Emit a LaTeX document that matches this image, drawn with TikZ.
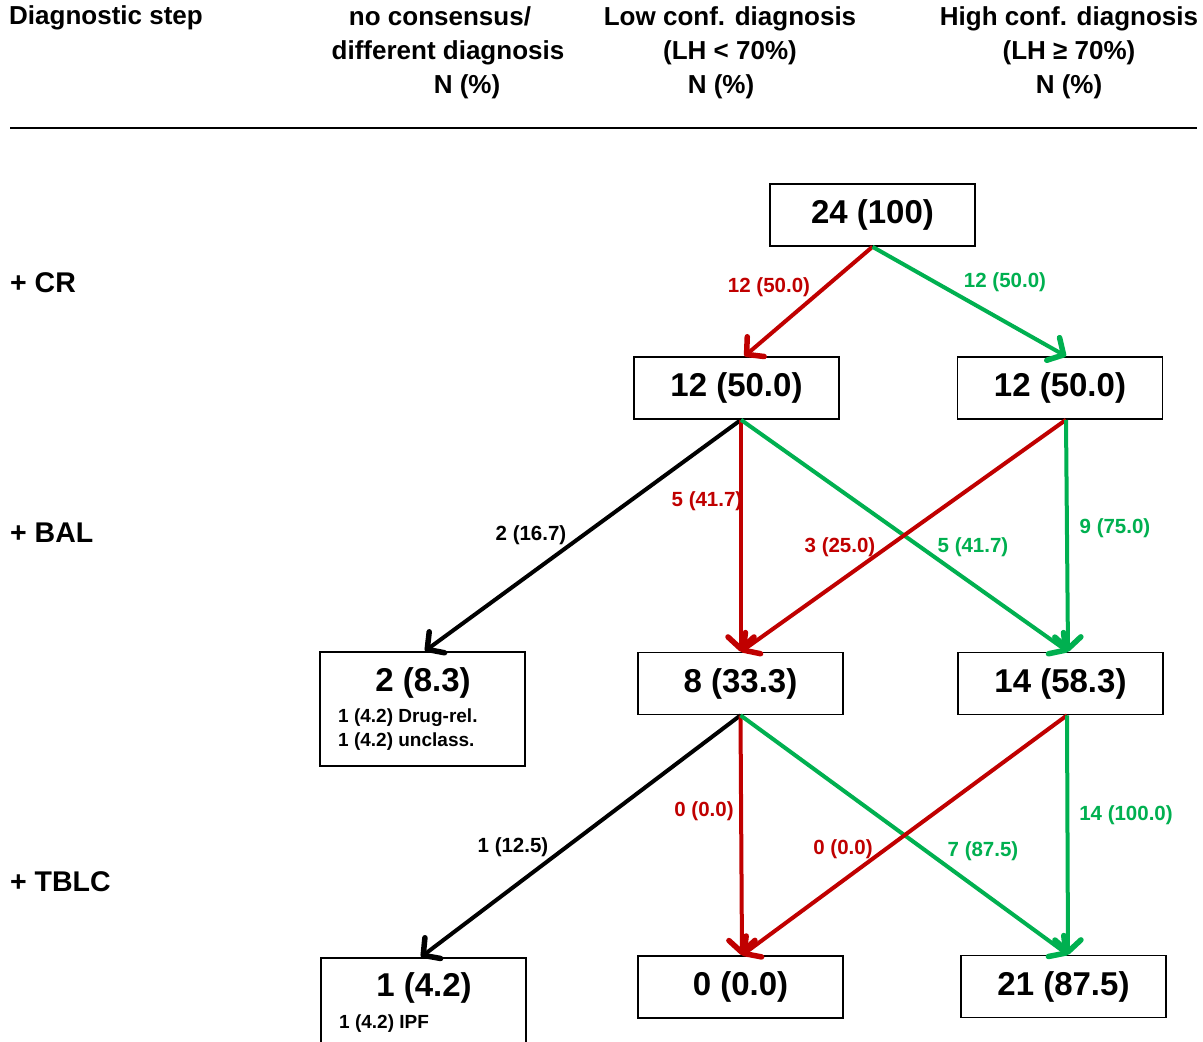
\documentclass[tikz,border=0pt]{standalone}
\usepackage{fontspec}
\setmainfont{Liberation Sans}
\usetikzlibrary{arrows.meta}
\definecolor{lowred}{HTML}{C00000}
\definecolor{highgreen}{HTML}{00B050}
\tikzset{
  countbox/.style={draw=black, line width=1.6pt, minimum width=205pt, minimum height=62pt, inner sep=0pt},
  bigtxt/.style={font=\fontsize{33}{38}\selectfont\bfseries},
  headtxt/.style={font=\fontsize{26}{34}\selectfont\bfseries, align=center},
  rowtxt/.style={font=\fontsize{28.5}{32}\selectfont\bfseries, anchor=west, inner sep=0pt},
  lbl/.style={font=\fontsize{20.5}{24}\selectfont\bfseries, inner sep=0pt},
  flow/.style={line width=4pt, -{Straight Barb[length=12pt,width=26pt,line width=5.5pt,round]}},
  redflow/.style={flow, draw=lowred},
  greenflow/.style={flow, draw=highgreen},
  blackflow/.style={flow, draw=black},
}
\begin{document}
\begin{tikzpicture}[x=1pt, y=-1pt]
\useasboundingbox (0,0) rectangle (1203,1042);
\fill[white] (0,0) rectangle (1203,1042);

% column headings
\node[headtxt, anchor=north west, align=left, inner sep=0pt] (hstep) at (9,5) {Diagnostic step};
\node[headtxt] (hnone) at (448,53) {no consensus/\hspace*{16pt}\\different diagnosis\\\hspace*{38pt}N (\%)};
\node[headtxt] (hlow) at (730,53) {Low conf. diagnosis\\(LH < 70\%)\\N (\%)\hspace*{18pt}};
\node[headtxt] (hhigh) at (1069,53) {High conf. diagnosis\\(LH ≥ 70\%)\\N (\%)};
\draw[line width=2pt] (10,128) -- (1197,128);

% diagnostic steps
\node[rowtxt] (rcr) at (10,283) {+ CR};
\node[rowtxt] (rbal) at (10,533) {+ BAL};
\node[rowtxt] (rtblc) at (10,882) {+ TBLC};

% count boxes
\node[countbox, bigtxt] (b0) at (872.5,215) {24 (100)};
\node[countbox, bigtxt] (l1) at (736.5,388) {12 (50.0)};
\node[countbox, bigtxt] (h1) at (1060,388) {12 (50.0)};

\node[countbox, minimum height=114pt, anchor=north] (n2) at (422.5,651) {};
\node[bigtxt, anchor=center] (n2t) at (423,683) {2 (8.3)};
\node[font=\fontsize{19}{24}\selectfont\bfseries, anchor=north west, align=left, inner sep=0pt] (n2d) at (338,709) {1 (4.2) Drug-rel.\\1 (4.2) unclass.};
\node[countbox, bigtxt] (l2) at (740.5,683.5) {8 (33.3)};
\node[countbox, bigtxt] (h2) at (1060.5,683.5) {14 (58.3)};

\begin{scope}
\clip (0,0) rectangle (1203,1042);
\node[countbox, minimum height=114pt, anchor=north] (n3) at (423.5,957) {};
\end{scope}
\node[bigtxt, anchor=center] (n3t) at (424,988) {1 (4.2)};
\node[font=\fontsize{19}{24}\selectfont\bfseries, anchor=north west, inner sep=0pt] (n3d) at (339,1015) {1 (4.2) IPF};
\node[countbox, bigtxt] (l3) at (740.5,987) {0 (0.0)};
\node[countbox, bigtxt] (h3) at (1063.5,986.5) {21 (87.5)};

% transitions after CR
\draw[redflow] (b0.south) -- ([xshift=8pt]l1.north);
\draw[greenflow] (b0.south) -- ([xshift=6pt]h1.north);
\node[lbl, text=lowred] (e1) at (769,287) {12 (50.0)};
\node[lbl, text=highgreen] (e2) at (1005,282) {12 (50.0)};

% transitions after BAL
\draw[blackflow] ([xshift=4.5pt]l1.south) -- ([xshift=2.5pt]n2.north);
\draw[redflow] ([xshift=4.5pt]l1.south) -- ([xshift=0.5pt]l2.north);
\draw[greenflow] ([xshift=4.5pt]l1.south) -- ([xshift=7.5pt]h2.north);
\draw[redflow] ([xshift=6pt]h1.south) -- ([xshift=0.5pt]l2.north);
\draw[greenflow] ([xshift=6pt]h1.south) -- ([xshift=7.5pt]h2.north);
\node[lbl, text=black] (e3) at (531,535) {2 (16.7)};
\node[lbl, text=lowred] (e4) at (707,501) {5 (41.7)};
\node[lbl, text=lowred] (e5) at (840,547) {3 (25.0)};
\node[lbl, text=highgreen] (e6) at (973,547) {5 (41.7)};
\node[lbl, text=highgreen] (e7) at (1115,528) {9 (75.0)};

% transitions after TBLC
\draw[blackflow] (l2.south) -- ([xshift=-2.5pt]n3.north);
\draw[redflow] (l2.south) -- ([xshift=1.5pt]l3.north);
\draw[greenflow] (l2.south) -- ([xshift=4.5pt]h3.north);
\draw[redflow] ([xshift=6.5pt]h2.south) -- ([xshift=1.5pt]l3.north);
\draw[greenflow] ([xshift=6.5pt]h2.south) -- ([xshift=4.5pt]h3.north);
\node[lbl, text=black] (e8) at (513,847) {1 (12.5)};
\node[lbl, text=lowred] (e9) at (704,811) {0 (0.0)};
\node[lbl, text=lowred] (e10) at (843,849) {0 (0.0)};
\node[lbl, text=highgreen] (e11) at (983,851) {7 (87.5)};
\node[lbl, text=highgreen] (e12) at (1126,815) {14 (100.0)};
\end{tikzpicture}
\end{document}
